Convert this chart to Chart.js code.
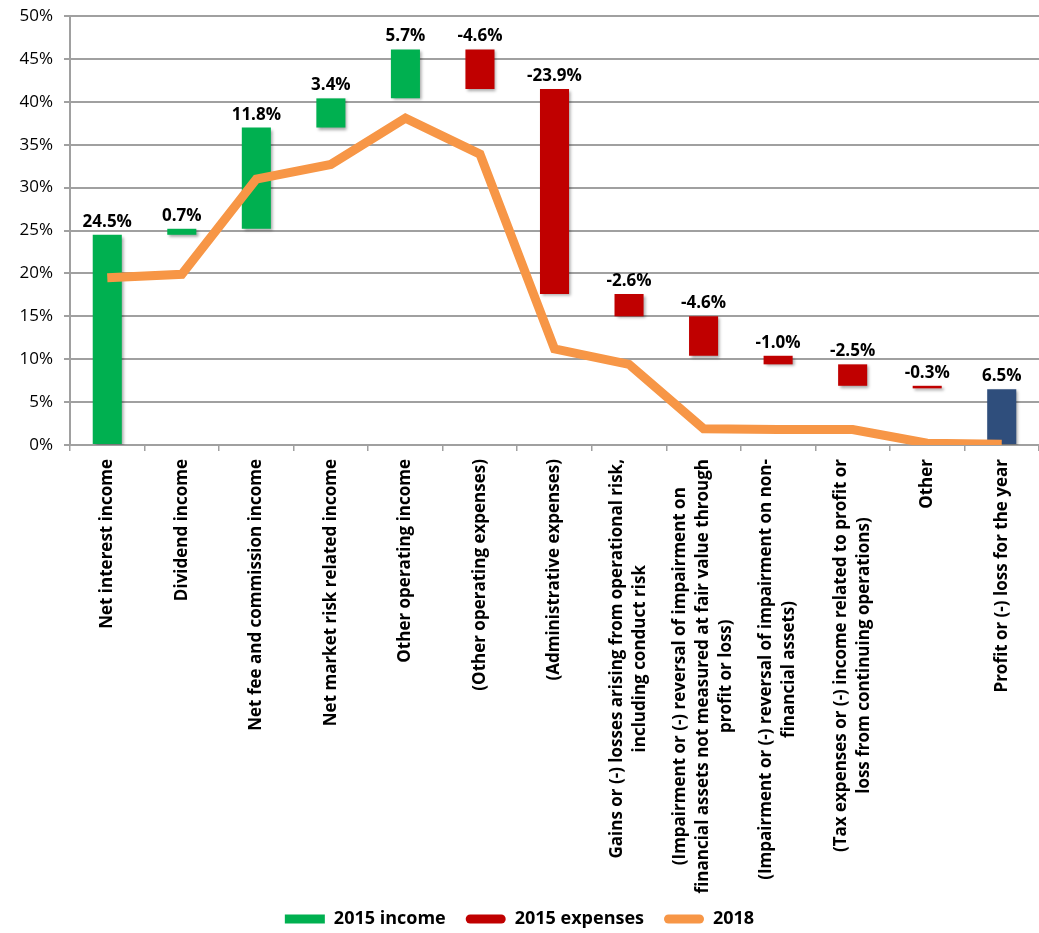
<!DOCTYPE html>
<html><head><meta charset="utf-8">
<script src="https://cdn.jsdelivr.net/npm/chart.js@4"></script>
<style>html,body{margin:0;padding:0;background:#fff}#wrap{width:1039px;height:933px;position:relative}</style>
</head><body><div id="wrap"><canvas id="c"></canvas></div>
<script>
const categories = [
  ['Net interest income'],
  ['Dividend income'],
  ['Net fee and commission income'],
  ['Net market risk related income'],
  ['Other operating income'],
  ['(Other operating expenses)'],
  ['(Administrative expenses)'],
  ['Gains or (-) losses arising from operational risk,', 'including conduct risk'],
  ['(Impairment or (-) reversal of impairment on', 'financial assets not measured at fair value through', 'profit or loss)'],
  ['(Impairment or (-) reversal of impairment on non-', 'financial assets)'],
  ['(Tax expenses or (-) income related to profit or', 'loss from continuing operations)'],
  ['Other'],
  ['Profit or (-) loss for the year']
];
const change2015 = [24.5, 0.7, 11.8, 3.4, 5.7, -4.6, -23.9, -2.6, -4.6, -1.0, -2.5, -0.3, 6.5];
const isTotal = [false, false, false, false, false, false, false, false, false, false, false, false, true];
const series2018 = [19.5, 19.9, 31.0, 32.7, 38.1, 33.9, 11.2, 9.4, 1.9, 1.8, 1.8, 0.2, 0.1];
const yTicks = [0, 5, 10, 15, 20, 25, 30, 35, 40, 45, 50];
const legendNames = ['2015 income', '2015 expenses', '2018'];

const GREEN = '#00B050', RED = '#C00000', BLUE = '#2F4E7C', ORANGE = '#F79646';
const FONT = '"Open Sans", "Liberation Sans", sans-serif';

// waterfall ranges
const income = [], expenses = [], totals = [];
let run = 0;
change2015.forEach((v, i) => {
  let r;
  if (isTotal[i]) { r = [0, v]; }
  else { r = [run, run + v]; run += v; }
  income.push(!isTotal[i] && v > 0 ? r : null);
  expenses.push(!isTotal[i] && v < 0 ? r : null);
  totals.push(isTotal[i] ? r : null);
});

const shadowPlugin = {
  id: 'shadow',
  beforeDatasetDraw(chart, args) {
    if (args.meta.type !== 'bar') return;
    const ctx = chart.ctx;
    ctx.save();
    ctx.shadowColor = 'rgba(0,0,0,0.35)';
    ctx.shadowOffsetX = 2; ctx.shadowOffsetY = 2; ctx.shadowBlur = 3;
  },
  afterDatasetDraw(chart, args) {
    if (args.meta.type !== 'bar') return;
    chart.ctx.restore();
  }
};

const legendShift = {
  id: 'legendShift',
  afterLayout(chart) {
    if (chart.legend) { chart.legend.top += 5; chart.legend.bottom += 5; }
  }
};

const valueLabels = {
  id: 'valueLabels',
  afterDatasetsDraw(chart) {
    const ctx = chart.ctx;
    ctx.save();
    ctx.font = 'bold 17px ' + FONT;
    ctx.fillStyle = '#000';
    ctx.textAlign = 'center';
    ctx.textBaseline = 'alphabetic';
    change2015.forEach((v, i) => {
      for (let d = 0; d < 3; d++) {
        const ds = chart.data.datasets[d];
        if (ds.data[i]) {
          const el = chart.getDatasetMeta(d).data[i];
          const top = Math.min(el.y, el.base);
          ctx.fillText(v.toFixed(1) + '%', el.x, top - 8);
        }
      }
    });
    ctx.restore();
  }
};

const xLabels = {
  id: 'xLabels',
  afterDraw(chart) {
    const ctx = chart.ctx;
    const xs = chart.scales.x;
    const lh = 23;
    ctx.save();
    ctx.font = 'bold 17px ' + FONT;
    ctx.fillStyle = '#000';
    ctx.textAlign = 'center';
    ctx.textBaseline = 'middle';
    categories.forEach((lines, i) => {
      const x = xs.getPixelForValue(i);
      const top = xs.top + 14;
      let maxW = 0;
      lines.forEach(l => { maxW = Math.max(maxW, ctx.measureText(l).width); });
      ctx.save();
      ctx.translate(x, top);
      ctx.rotate(-Math.PI / 2);
      lines.forEach((l, k) => {
        ctx.fillText(l, -maxW / 2, (k - (lines.length - 1) / 2) * lh);
      });
      ctx.restore();
    });
    ctx.restore();
  }
};

new Chart(document.getElementById('c'), {
  data: {
    labels: categories,
    datasets: [
      { type: 'bar', label: legendNames[0], data: income, backgroundColor: GREEN, order: 2,
        barPercentage: 0.39, categoryPercentage: 1 },
      { type: 'bar', label: legendNames[1], data: expenses, backgroundColor: RED, order: 2,
        barPercentage: 0.39, categoryPercentage: 1 },
      { type: 'bar', label: 'Profit', data: totals, backgroundColor: BLUE, order: 2,
        barPercentage: 0.39, categoryPercentage: 1 },
      { type: 'line', label: legendNames[2], data: series2018, borderColor: ORANGE, backgroundColor: ORANGE,
        borderWidth: 9, pointRadius: 0, tension: 0, order: 0, borderJoinStyle: 'miter', borderCapStyle: 'butt' }
    ]
  },
  options: {
    responsive: true,
    maintainAspectRatio: false,
    animation: false,
    layout: { padding: { top: 16, left: 0, right: 0, bottom: 0 } },
    plugins: {
      tooltip: { enabled: false },
      legend: {
        position: 'bottom',
        labels: {
          font: { family: FONT, size: 18, weight: 'bold' },
          color: '#000',
          boxWidth: 40,
          boxHeight: 9,
          padding: 20,
          useBorderRadius: true,
          generateLabels() {
            return [
              { text: legendNames[0], fillStyle: GREEN, strokeStyle: GREEN, lineWidth: 0, borderRadius: 0, datasetIndex: 0 },
              { text: legendNames[1], fillStyle: RED, strokeStyle: RED, lineWidth: 0, borderRadius: 4.5, datasetIndex: 1 },
              { text: legendNames[2], fillStyle: ORANGE, strokeStyle: ORANGE, lineWidth: 0, borderRadius: 4.5, datasetIndex: 3 }
            ];
          }
        }
      }
    },
    scales: {
      x: {
        stacked: true,
        offset: true,
        grid: { display: true, drawOnChartArea: false, drawTicks: true, tickLength: 6, offset: true, color: '#A0A0A0', lineWidth: 1.5 },
        border: { display: true, color: '#A0A0A0', width: 2 },
        ticks: { display: false },
        afterFit(s) { s.height = 440; }
      },
      y: {
        stacked: false,
        min: 0, max: 50,
        afterBuildTicks(s) { s.ticks = yTicks.map(v => ({ value: v })); },
        grid: { color: '#A0A0A0', lineWidth: 2, tickLength: 6, drawTicks: true },
        border: { display: true, color: '#A0A0A0', width: 2 },
        ticks: { padding: 11, color: '#000', font: { family: FONT, size: 17 }, callback: v => v + '%' },
        afterFit(s) { s.width = 70; s.paddingTop = 0; s.paddingBottom = 0; }
      }
    }
  },
  plugins: [shadowPlugin, legendShift, valueLabels, xLabels]
});
</script></body></html>
